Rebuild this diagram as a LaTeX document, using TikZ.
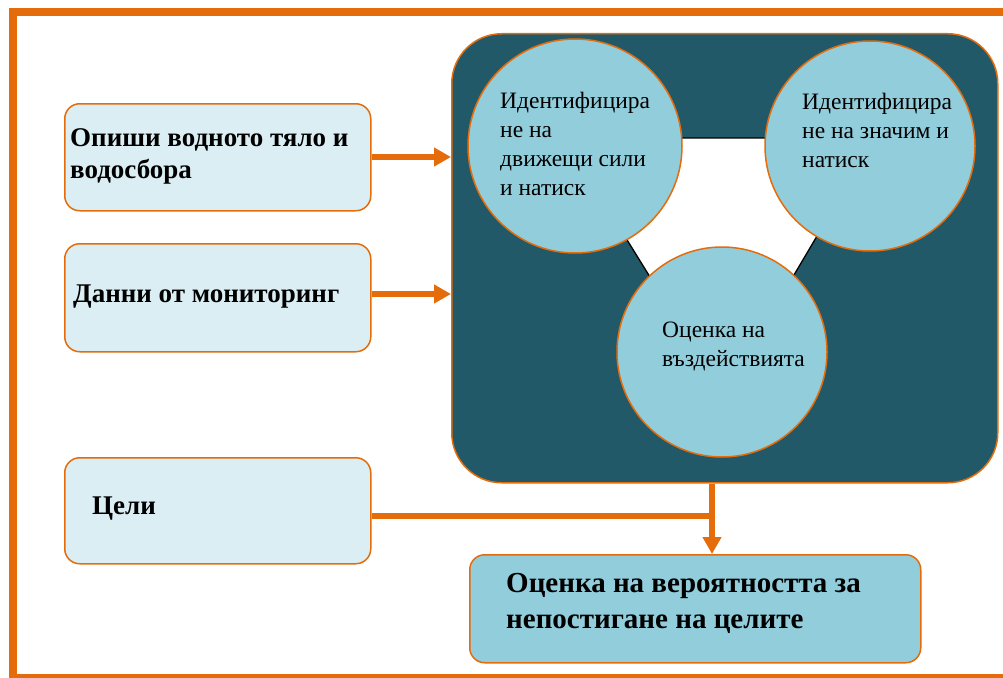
\documentclass[tikz,border=0pt]{standalone}
\usepackage{fontspec}
\setmainfont{Liberation Serif}
\usetikzlibrary{arrows.meta}
\definecolor{orng}{HTML}{E46C0A}
\definecolor{dteal}{HTML}{215968}
\definecolor{lblue}{HTML}{92CDDC}
\definecolor{pblue}{HTML}{DBEEF4}
\tikzset{
  lbox/.style={draw=orng, line width=1.5pt, fill=pblue, rounded corners=15pt, anchor=north west, inner sep=0pt},
  circ/.style={circle, draw=orng, line width=1.5pt, fill=lblue, inner sep=0pt},
  btxt/.style={anchor=base west, align=left, inner sep=0pt, font=\fontsize{27}{31.5}\selectfont\bfseries},
  ctxt/.style={anchor=base west, align=left, inner sep=0pt, font=\fontsize{23.5}{29}\selectfont},
  arr/.style={draw=orng, line width=6pt, -{Triangle[width=18pt,length=17pt]}},
  conn/.style={draw=orng, line width=6pt}
}
\begin{document}
\begin{tikzpicture}[x=1pt,y=-1pt]
\useasboundingbox (0,0) rectangle (1003,677);
\fill[white] (0,0) rectangle (1003,677);
% frame
\draw[orng, line width=8pt] (13,12) rectangle (1012,678);
% main dark box
\node[draw=orng, line width=1.5pt, fill=dteal, rounded corners=50pt, anchor=north west, inner sep=0pt,
      minimum width=546pt, minimum height=449pt] (main) at (451,33) {};
% triangle
\draw[black, line width=1.3pt, fill=white] (564,138) coordinate (t1) -- (875,138) coordinate (t2) -- (723,395) coordinate (t3) -- cycle;
% circles
\node[circ, minimum size=214pt] (c1) at (575,146) {};
\node[circ, minimum size=210pt] (c2) at (870,146) {};
\node[circ, minimum size=210pt] (c3) at (722,352) {};
\node[ctxt] (c1t) at (500,195) {Идентифицира\\не на\\движещи сили\\и натиск};
\node[ctxt] (c2t) at (802,167) {Идентифицира\\не на значим и\\натиск};
\node[ctxt] (c3t) at (662,366) {Оценка на\\въздействията};
% left boxes
\node[lbox, minimum width=306pt, minimum height=107pt] (b1) at (64,103) {};
\node[lbox, minimum width=306pt, minimum height=108pt] (b2) at (64,243) {};
\node[lbox, minimum width=306pt, minimum height=106pt] (b3) at (64,457) {};
\node[btxt] (b1t) at (70,178) {Опиши водното тяло и\\водосбора};
\node[btxt] (b2t) at (73,302) {Данни от мониторинг};
\node[btxt] (b3t) at (92,514) {Цели};
% bottom box
\node[lbox, fill=lblue, minimum width=451pt, minimum height=108pt] (res) at (469,554) {};
\node[anchor=base west, align=left, inner sep=0pt, font=\fontsize{29}{36}\selectfont\bfseries] (rest) at (506,628) {Оценка на вероятността за\\непостигане на целите};
% connectors
\coordinate (j) at (712,516);
\draw[arr] (b1.east |- 0,157) -- (main.west |- 0,157);
\draw[arr] (b2.east |- 0,294) -- (main.west |- 0,294);
\draw[conn] (b3.east |- j) -- ([xshift=3pt]j);
\draw[arr] (main.south -| j) -- (res.north -| j);
\end{tikzpicture}
\end{document}
